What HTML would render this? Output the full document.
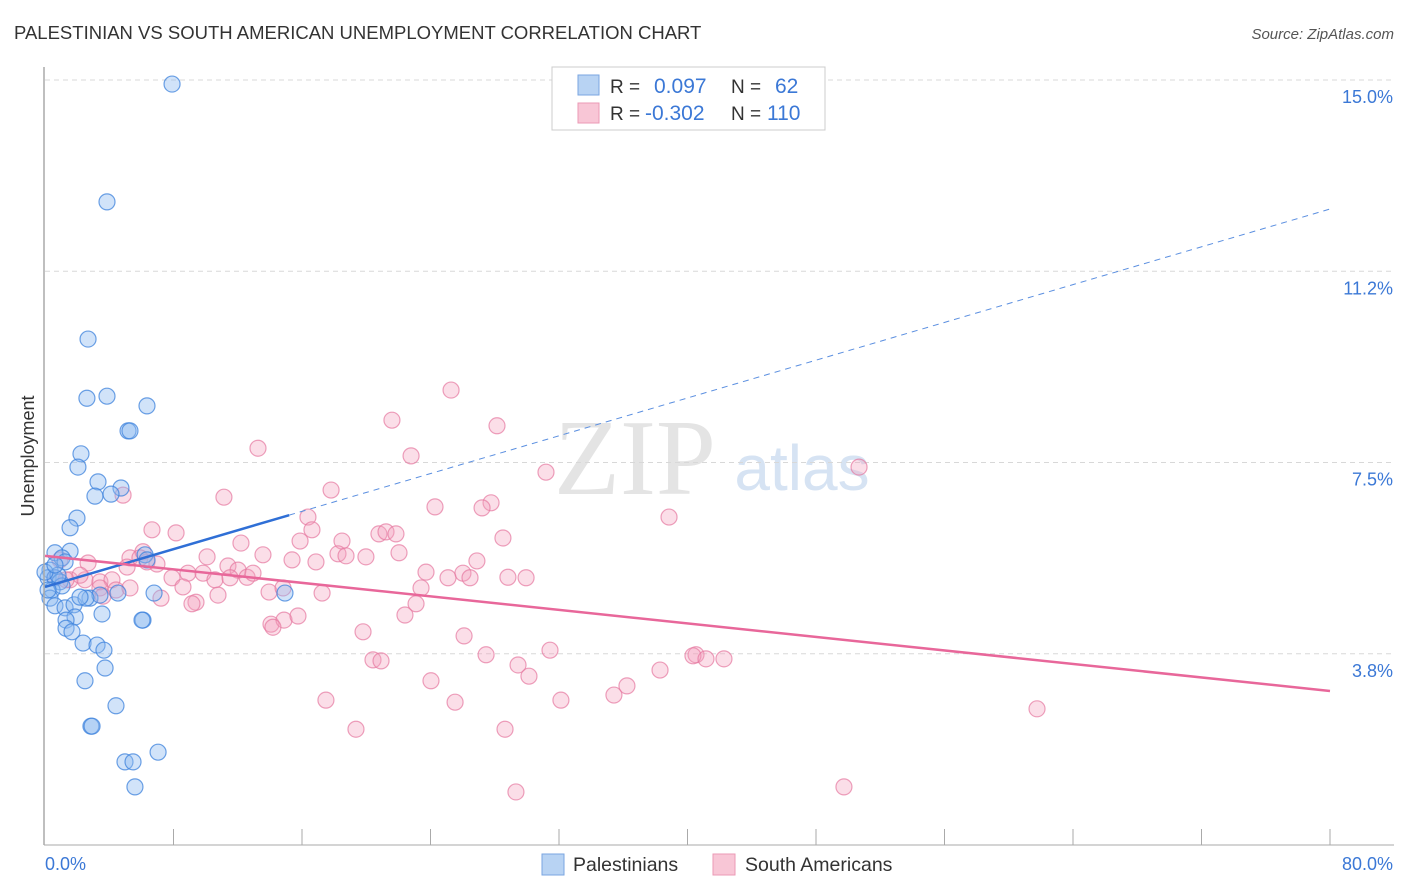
<!DOCTYPE html>
<html><head><meta charset="utf-8"><style>
body{margin:0;background:#fff;font-family:"Liberation Sans",sans-serif;}
svg{display:block}
</style></head><body>
<svg width="1406" height="892" id="chart">
<text x="14" y="39" font-size="18.5" fill="#333">PALESTINIAN VS SOUTH AMERICAN UNEMPLOYMENT CORRELATION CHART</text>
<text x="1394" y="39" font-size="15" fill="#555" font-style="italic" text-anchor="end">Source: ZipAtlas.com</text>
<text x="34" y="456" font-size="18" fill="#333" text-anchor="middle" transform="rotate(-90 34 456)">Unemployment</text>
<text x="635" y="494" font-size="108" fill="#e4e4e4" font-family="Liberation Serif,serif" text-anchor="middle">ZIP</text>
<text x="802" y="490" font-size="64" fill="#d6e3f3" text-anchor="middle">atlas</text>
<g id="grid"></g><g id="pts"></g><g id="lines"></g>
<line x1="44" y1="67" x2="44" y2="845" stroke="#aaa" stroke-width="1.5"/>
<line x1="44" y1="845" x2="1394" y2="845" stroke="#aaa"/>
<text x="45" y="870" font-size="18" fill="#3b78d6">0.0%</text>
<text x="1393" y="870" font-size="18" fill="#3b78d6" text-anchor="end">80.0%</text>
<g>
<rect x="552" y="67" width="273" height="63" fill="#fff" stroke="#ccc"/>
<rect x="578" y="75" width="21" height="20" fill="#b8d3f3" stroke="#7aa6e0"/>
<rect x="578" y="103" width="21" height="20" fill="#f8c6d6" stroke="#eb9ab5"/>
<text x="610" y="93" font-size="19" fill="#333">R =</text><text x="654" y="93" font-size="21" fill="#3b78d6">0.097</text>
<text x="731" y="93" font-size="19" fill="#333">N =</text><text x="775" y="93" font-size="21" fill="#3b78d6">62</text>
<text x="610" y="120" font-size="19" fill="#333">R =</text><text x="645" y="120" font-size="21" fill="#3b78d6">-0.302</text>
<text x="731" y="120" font-size="19" fill="#333">N =</text><text x="767" y="120" font-size="21" fill="#3b78d6">110</text>
</g>
<g>
<rect x="542" y="854" width="22" height="21" fill="#b8d3f3" stroke="#7aa6e0"/>
<text x="573" y="871" font-size="19.5" fill="#333">Palestinians</text>
<rect x="713" y="854" width="22" height="21" fill="#f8c6d6" stroke="#eb9ab5"/>
<text x="745" y="871" font-size="19.5" fill="#333">South Americans</text>
</g>
</svg>
<script>
const yTicks=[15.0,11.25,7.5,3.75];
const yTickLabels=["15.0%","11.2%","7.5%","3.8%"];
const xTicks=[8,16,24,32,40,48,56,64,72,80];
const bluePx=[[172,84],[107,202],[88,339],[87,398],[107,396],[147,406],[128,431],[130,431],[81,454],[78,467],[98,482],[121,488],[95,496],[111,494],[77,518],[70,528],[70,551],[55,553],[62,558],[65,562],[50,570],[48,578],[55,578],[60,582],[52,590],[50,598],[55,606],[65,608],[74,605],[90,598],[100,595],[118,593],[86,598],[154,593],[285,593],[102,614],[75,617],[66,620],[66,628],[72,632],[83,643],[97,645],[104,650],[143,620],[142,620],[105,668],[85,681],[116,706],[91,726],[92,726],[125,762],[133,762],[135,787],[158,752],[145,555],[147,560],[62,586],[58,575],[80,597],[45,572],[48,590],[55,565]];
const pinkPx=[[451,390],[392,420],[497,426],[258,448],[411,456],[546,472],[859,467],[331,490],[224,497],[123,495],[435,507],[491,503],[482,508],[308,517],[669,517],[152,530],[176,533],[241,543],[312,530],[300,541],[342,541],[379,534],[386,532],[396,534],[503,538],[130,558],[143,552],[140,558],[147,562],[157,564],[207,557],[263,555],[292,560],[316,562],[338,554],[346,556],[366,557],[399,553],[477,561],[88,563],[60,560],[55,578],[70,580],[85,580],[100,582],[112,580],[127,567],[172,578],[188,573],[203,573],[215,580],[228,566],[238,570],[247,577],[253,573],[230,578],[269,592],[283,588],[322,593],[421,588],[426,572],[448,578],[463,573],[470,578],[508,577],[526,578],[100,588],[103,596],[116,590],[130,588],[183,587],[196,602],[161,598],[218,595],[192,604],[271,624],[284,620],[298,616],[273,627],[405,615],[416,604],[363,632],[464,636],[486,655],[550,650],[518,665],[529,676],[373,660],[381,661],[696,655],[693,656],[706,659],[724,659],[660,670],[627,686],[614,695],[431,681],[326,700],[455,702],[561,700],[356,729],[505,729],[1037,709],[516,792],[844,787],[66,580],[80,575]];
const toData=p=>[+((p[0]-45)*80/1285).toFixed(2),+((845-p[1])/51).toFixed(2)];
const blueX=bluePx.map(p=>toData(p)[0]), blueY=bluePx.map(p=>toData(p)[1]);
const pinkX=pinkPx.map(p=>toData(p)[0]), pinkY=pinkPx.map(p=>toData(p)[1]);
const blueTrend=[0,5.06,80,12.47];
const pinkTrend=[0,5.67,80,3.02];
const blueSolidEnd=15.2;

const sx=v=>45+v*1285/80, sy=v=>845-v*51;
const NS="http://www.w3.org/2000/svg";
function mk(t,a,parent){const e=document.createElementNS(NS,t);for(const k in a)e.setAttribute(k,a[k]);parent.appendChild(e);return e;}
const grid=document.getElementById('grid');
yTicks.forEach((v,i)=>{
 const l=mk('line',{x1:45,x2:1394,y1:sy(v),y2:sy(v),stroke:'#d8d8d8','stroke-dasharray':'5,4'},grid);
 
 
 const t=mk('text',{x:1393,y:sy(v)+23,'font-size':18,fill:'#3b78d6','text-anchor':'end'},grid);
 t.textContent=yTickLabels[i];
 
 
});
xTicks.forEach(v=>{
 const l=mk('line',{x1:sx(v),x2:sx(v),y1:829,y2:845,stroke:'#aaa'},grid);
 
 
});
const pts=document.getElementById('pts');
pinkX.forEach((x,i)=>{
 const c=mk('circle',{cx:sx(x),cy:sy(pinkY[i]),r:8,fill:'rgba(244,160,188,0.35)',stroke:'rgba(230,120,160,0.7)','stroke-width':1.2},pts);
 
 
});
blueX.forEach((x,i)=>{
 const c=mk('circle',{cx:sx(x),cy:sy(blueY[i]),r:8,fill:'rgba(140,185,240,0.4)',stroke:'rgba(60,130,220,0.75)','stroke-width':1.2},pts);
 
 
});
const lines=document.getElementById('lines');
const by=x=>blueTrend[1]+(blueTrend[3]-blueTrend[1])*(x-blueTrend[0])/(blueTrend[2]-blueTrend[0]);
let l1=mk('line',{x1:sx(0),y1:sy(by(0)),x2:sx(blueSolidEnd),y2:sy(by(blueSolidEnd)),stroke:'#2f6fd6','stroke-width':2.5},lines);


let l2=mk('line',{x1:sx(blueSolidEnd),y1:sy(by(blueSolidEnd)),x2:sx(80),y2:sy(by(80)),stroke:'#5b8fe0','stroke-width':1,'stroke-dasharray':'6,5'},lines);


let l3=mk('line',{x1:sx(pinkTrend[0]),y1:sy(pinkTrend[1]),x2:sx(pinkTrend[2]),y2:sy(pinkTrend[3]),stroke:'#e8679a','stroke-width':2.5},lines);


</script>
</body></html>
